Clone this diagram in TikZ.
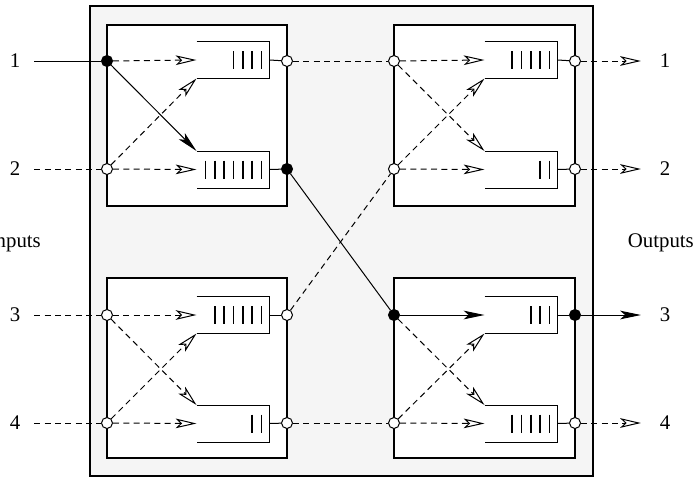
\documentclass[tikz,border=0pt]{standalone}
\usepackage{fontspec}
\setmainfont{Liberation Serif}
\usetikzlibrary{arrows.meta}
\tikzset{
  port/.style={circle,draw,fill=white,minimum size=6.6pt,inner sep=0pt,line width=0.6pt},
  busy/.style={port,fill=black},
  queue/.style={minimum width=43.2pt,minimum height=21.6pt,inner sep=0pt},
  sw/.style={draw,line width=0.8pt,fill=white},
  dsh/.style={dash pattern=on 3.6pt off 2.6pt},
  idle/.style={dsh,-{Stealth[open,length=12.5pt,width=5.8pt,inset=3pt]}},
  flow/.style={-{Stealth[length=12.5pt,width=5.2pt,inset=3pt]}},
  lab/.style={font=\fontsize{12.5}{14}\selectfont,inner sep=1pt},
  every path/.style={line width=0.6pt}
}

\begin{document}
\begin{tikzpicture}[x=0.6pt,y=-0.6pt]
  \useasboundingbox (0,0) rectangle (695,485);
  % ---- fabric ----
  \draw[line width=0.8pt,fill=black!4] (90,6) rectangle (593,476);
  \draw[sw] (107,25) rectangle (287,206);
  \draw[sw] (394,25) rectangle (575,206);
  \draw[sw] (107,278) rectangle (287,458);
  \draw[sw] (394,278) rectangle (575,458);

  % ---- queues ----
  \node[queue] (aq1) at (233,60) {};
  \node[queue] (aq2) at (233,169.5) {};
  \node[queue] (bq1) at (521,60) {};
  \node[queue] (bq2) at (521,169.5) {};
  \node[queue] (cq1) at (233,315) {};
  \node[queue] (cq2) at (233,423.5) {};
  \node[queue] (dq1) at (521,315) {};
  \node[queue] (dq2) at (521,423.5) {};
  \foreach \q/\n in {aq1/4,aq2/7,bq1/5,bq2/2,cq1/6,cq2/2,dq1/3,dq2/5} {
    \draw (\q.north west) -- (\q.north east) -- (\q.south east) -- (\q.south west);
    \foreach \k in {1,...,\n}
      \draw[line width=0.9pt] ([xshift={-4.8pt-(\k-1)*5.6pt},yshift=5.4pt]\q.east) -- ++(0,18);
  }

  % ---- ports ----
  \node[busy] (ai1) at (107,61) {};
  \node[port] (ai2) at (107,169) {};
  \node[port] (ao1) at (287,61) {};
  \node[busy] (ao2) at (287,169) {};
  \node[port] (bi1) at (394,61) {};
  \node[port] (bi2) at (394,169) {};
  \node[port] (bo1) at (575,61) {};
  \node[port] (bo2) at (575,169) {};
  \node[port] (ci1) at (107,315) {};
  \node[port] (ci2) at (107,423) {};
  \node[port] (co1) at (287,315) {};
  \node[port] (co2) at (287,423) {};
  \node[busy] (di1) at (394,315) {};
  \node[port] (di2) at (394,423) {};
  \node[busy] (do1) at (575,315) {};
  \node[port] (do2) at (575,423) {};

  % ---- inside the switches ----
  \foreach \s in {a,b,c,d} {
    \draw (\s q1.east) -- (\s o1);
    \draw (\s q2.east) -- (\s o2);
  }
  \draw[idle] (ai1) -- (aq1.west);
  \draw[flow] (ai1) -- (aq2.north west);
  \draw[idle] (ai2) -- (aq1.south west);
  \draw[idle] (ai2) -- (aq2.west);
  \foreach \s in {b,c} {
    \draw[idle] (\s i1) -- (\s q1.west);
    \draw[idle] (\s i1) -- (\s q2.north west);
    \draw[idle] (\s i2) -- (\s q1.south west);
    \draw[idle] (\s i2) -- (\s q2.west);
  }
  \draw[flow] (di1) -- (dq1.west);
  \draw[idle] (di1) -- (dq2.north west);
  \draw[idle] (di2) -- (dq1.south west);
  \draw[idle] (di2) -- (dq2.west);

  % ---- between the stages ----
  \draw[dsh] (ao1) -- (bi1);
  \draw (ao2) -- (di1);
  \draw[dsh] (co1) -- (bi2);
  \draw[dsh] (co2) -- (di2);

  % ---- inputs and outputs ----
  \node[lab] (l1) at (15,61) {1};
  \node[lab] (l2) at (15,169) {2};
  \node[lab] (l3) at (15,315) {3};
  \node[lab] (l4) at (15,423) {4};
  \node[lab] (r1) at (665,61) {1};
  \node[lab] (r2) at (665,169) {2};
  \node[lab] (r3) at (665,315) {3};
  \node[lab] (r4) at (665,423) {4};
  \draw (l1.east) ++(12,0) coordinate (x1) (x1) -- (ai1);
  \draw[dsh] (l2.east) ++(12,0) coordinate (x2) (x2) -- (ai2);
  \draw[dsh] (l3.east) ++(12,0) coordinate (x3) (x3) -- (ci1);
  \draw[dsh] (l4.east) ++(12,0) coordinate (x4) (x4) -- (ci2);
  \draw[idle] (bo1) -- ([xshift=-10]r1.west);
  \draw[idle] (bo2) -- ([xshift=-10]r2.west);
  \draw[flow] (do1) -- ([xshift=-10]r3.west);
  \draw[idle] (do2) -- ([xshift=-10]r4.west);
  \node[lab,anchor=east] (inp) at (43,243) {Inputs};
  \node[lab,anchor=east] (outp) at (696,243) {Outputs};
\end{tikzpicture}
\end{document}
